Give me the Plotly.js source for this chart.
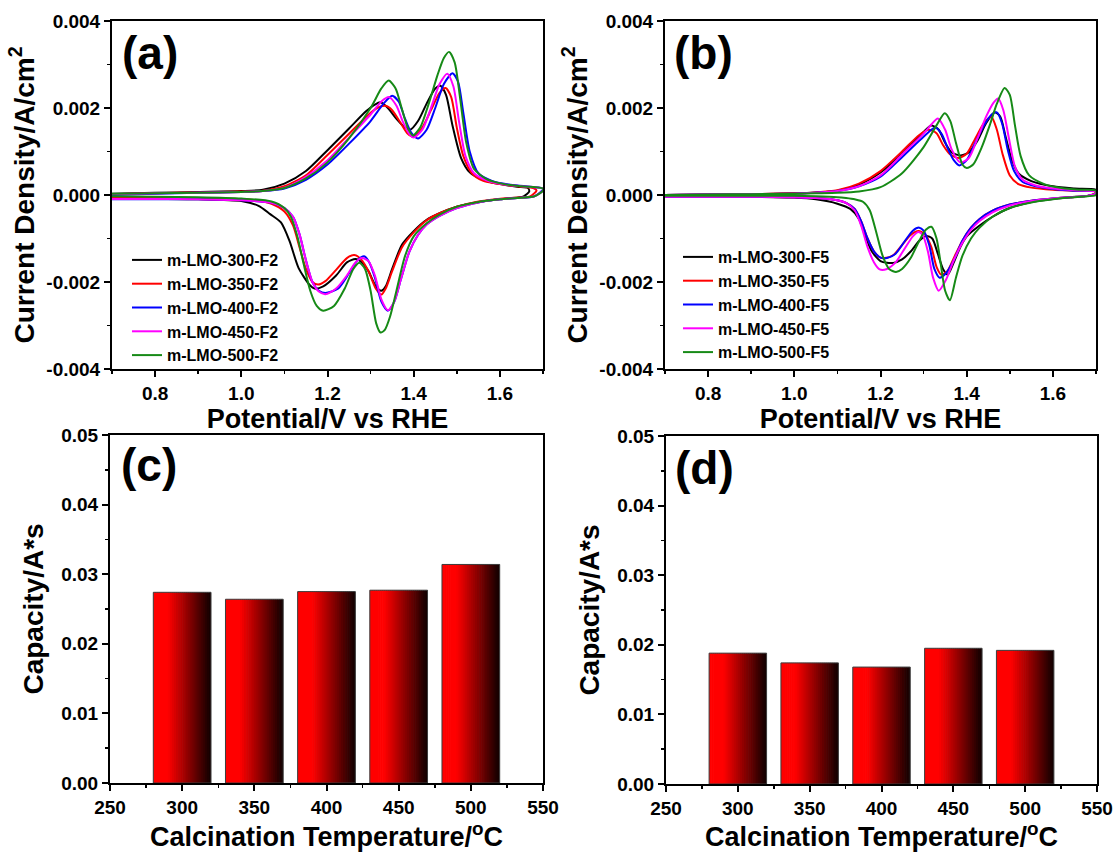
<!DOCTYPE html>
<html>
<head>
<meta charset="utf-8">
<script src="https://cdn.plot.ly/plotly-3.0.1.min.js"></script>
<style>html,body{margin:0;padding:0;background:#fff;}#chart{width:1118px;height:852px;}</style>
</head>
<body>
<div id="chart"></div>
<script>
// ---------------- DATA ----------------
const namesA = ["m-LMO-300-F2", "m-LMO-350-F2", "m-LMO-400-F2", "m-LMO-450-F2", "m-LMO-500-F2"];
const namesB = ["m-LMO-300-F5", "m-LMO-350-F5", "m-LMO-400-F5", "m-LMO-450-F5", "m-LMO-500-F5"];
const seriesColors = ["#000000", "#ff0000", "#0000ff", "#ff00ff", "#168a16"];

// a, 300-F2  (potential V vs RHE, current density A/cm^2; anodic sweep then cathodic sweep)
const vA300 = [0.70,0.80,0.90,1.00,1.05,1.10,1.15,1.20,1.25,1.29,1.31,1.323,1.34,1.36,1.38,1.392,1.41,1.43,1.45,1.462,1.475,1.49,1.51,1.53,1.56,1.60,1.64,1.665,
  1.668,1.655,1.62,1.58,1.545,1.50,1.46,1.43,1.40,1.373,1.35,1.335,1.325,1.312,1.295,1.28,1.265,1.245,1.22,1.19,1.17,1.158,1.133,1.112,1.092,1.067,1.04,1.00,0.90,0.80,0.70];
const jA300 = [3e-5,5e-5,7e-5,9e-5,1.2e-4,2.6e-4,5.5e-4,1.03e-3,1.53e-3,1.93e-3,2.08e-3,2.13e-3,2.0e-3,1.75e-3,1.55e-3,1.5e-3,1.7e-3,2.1e-3,2.45e-3,2.51e-3,2.3e-3,1.6e-3,8.5e-4,5.2e-4,3.5e-4,2.5e-4,1.9e-4,1.6e-4,
  8e-5,-3e-5,-8e-5,-1.2e-4,-1.7e-4,-2.7e-4,-4.2e-4,-5.7e-4,-8.3e-4,-1.14e-3,-1.7e-3,-2.1e-3,-2.2e-3,-2.1e-3,-1.75e-3,-1.55e-3,-1.47e-3,-1.55e-3,-1.85e-3,-2.1e-3,-2.15e-3,-2.06e-3,-1.68e-3,-1.06e-3,-6.3e-4,-4.4e-4,-2.5e-4,-1.4e-4,-1.0e-4,-9e-5,-8e-5];
// a, 350-F2
const vA350 = [0.70,0.80,0.90,1.00,1.05,1.10,1.15,1.20,1.25,1.29,1.315,1.335,1.35,1.37,1.385,1.40,1.42,1.44,1.46,1.474,1.487,1.50,1.515,1.535,1.56,1.60,1.64,1.68,
  1.685,1.67,1.62,1.58,1.545,1.50,1.46,1.43,1.40,1.373,1.35,1.335,1.325,1.312,1.295,1.278,1.262,1.245,1.22,1.195,1.178,1.165,1.15,1.135,1.12,1.10,1.07,1.04,1.00,0.90,0.80,0.70];
const jA350 = [2e-5,4e-5,6e-5,8e-5,1.0e-4,2.0e-4,4.5e-4,9.2e-4,1.41e-3,1.8e-3,2.0e-3,2.05e-3,1.95e-3,1.65e-3,1.42e-3,1.34e-3,1.55e-3,1.95e-3,2.35e-3,2.46e-3,2.25e-3,1.55e-3,9.0e-4,5.0e-4,3.3e-4,2.5e-4,2.0e-4,1.5e-4,
  1.0e-4,-3e-5,-7e-5,-1.1e-4,-1.6e-4,-2.7e-4,-4.2e-4,-5.8e-4,-8.6e-4,-1.2e-3,-1.75e-3,-2.15e-3,-2.29e-3,-2.15e-3,-1.75e-3,-1.48e-3,-1.38e-3,-1.45e-3,-1.72e-3,-1.98e-3,-2.06e-3,-2.0e-3,-1.7e-3,-1.2e-3,-7.0e-4,-3.8e-4,-2.0e-4,-1.3e-4,-9e-5,-7e-5,-6e-5,-5e-5];
// a, 400-F2
const vA400 = [0.70,0.80,0.90,1.00,1.05,1.10,1.15,1.20,1.25,1.30,1.33,1.35,1.365,1.38,1.395,1.41,1.43,1.45,1.47,1.49,1.503,1.515,1.53,1.55,1.58,1.62,1.66,1.70,
  1.70,1.68,1.64,1.60,1.55,1.50,1.46,1.43,1.41,1.39,1.37,1.355,1.34,1.325,1.31,1.297,1.285,1.27,1.25,1.225,1.195,1.18,1.165,1.15,1.135,1.12,1.10,1.07,1.00,0.90,0.80,0.70];
const jA400 = [0,3e-5,5e-5,7e-5,9e-5,1.5e-4,3.5e-4,7.0e-4,1.18e-3,1.7e-3,2.1e-3,2.28e-3,2.15e-3,1.75e-3,1.42e-3,1.3e-3,1.5e-3,2.0e-3,2.55e-3,2.8e-3,2.6e-3,1.9e-3,1.0e-3,5.0e-4,3.3e-4,2.4e-4,2.0e-4,1.5e-4,
  1.2e-4,-3e-5,-7e-5,-1.0e-4,-1.7e-4,-3.0e-4,-4.8e-4,-6.8e-4,-9.2e-4,-1.3e-3,-1.95e-3,-2.45e-3,-2.66e-3,-2.45e-3,-1.9e-3,-1.55e-3,-1.41e-3,-1.5e-3,-1.8e-3,-2.15e-3,-2.25e-3,-2.2e-3,-2.0e-3,-1.5e-3,-9.0e-4,-5.0e-4,-3.0e-4,-1.8e-4,-1.2e-4,-1.0e-4,-1.0e-4,-1.0e-4];
// a, 450-F2
const vA450 = [0.70,0.80,0.90,1.00,1.05,1.10,1.15,1.20,1.25,1.30,1.325,1.343,1.36,1.375,1.39,1.40,1.42,1.44,1.46,1.478,1.492,1.505,1.52,1.54,1.57,1.61,1.65,1.70,
  1.70,1.68,1.64,1.60,1.55,1.50,1.46,1.43,1.41,1.39,1.37,1.355,1.34,1.325,1.31,1.295,1.28,1.265,1.245,1.22,1.195,1.18,1.165,1.15,1.135,1.12,1.10,1.07,1.00,0.90,0.80,0.70];
const jA450 = [2e-5,4e-5,5e-5,7e-5,9e-5,1.7e-4,4.2e-4,8.0e-4,1.32e-3,1.85e-3,2.15e-3,2.25e-3,2.05e-3,1.68e-3,1.4e-3,1.32e-3,1.5e-3,2.0e-3,2.55e-3,2.79e-3,2.5e-3,1.7e-3,9.0e-4,5.0e-4,3.3e-4,2.4e-4,2.0e-4,1.5e-4,
  1.0e-4,-3e-5,-7e-5,-1.0e-4,-1.7e-4,-3.0e-4,-4.8e-4,-6.8e-4,-9.2e-4,-1.3e-3,-1.95e-3,-2.45e-3,-2.65e-3,-2.4e-3,-1.85e-3,-1.52e-3,-1.45e-3,-1.55e-3,-1.85e-3,-2.15e-3,-2.28e-3,-2.22e-3,-2.0e-3,-1.5e-3,-9.0e-4,-5.0e-4,-3.0e-4,-1.8e-4,-1.2e-4,-1.0e-4,-9e-5,-9e-5];
// a, 500-F2
const vA500 = [0.70,0.80,0.90,1.00,1.05,1.10,1.15,1.20,1.25,1.30,1.325,1.342,1.358,1.372,1.386,1.398,1.415,1.435,1.455,1.47,1.482,1.495,1.508,1.522,1.54,1.57,1.61,1.65,1.70,
  1.70,1.68,1.64,1.60,1.55,1.50,1.46,1.43,1.40,1.38,1.36,1.345,1.333,1.323,1.313,1.30,1.287,1.274,1.26,1.24,1.215,1.19,1.175,1.16,1.145,1.13,1.115,1.10,1.07,1.00,0.90,0.80,0.70];
const jA500 = [3e-5,4e-5,5e-5,7e-5,9e-5,1.6e-4,3.8e-4,7.5e-4,1.3e-3,2.0e-3,2.45e-3,2.63e-3,2.45e-3,2.0e-3,1.55e-3,1.37e-3,1.55e-3,2.1e-3,2.75e-3,3.15e-3,3.29e-3,3.05e-3,2.2e-3,1.2e-3,6.0e-4,3.6e-4,2.5e-4,2.0e-4,1.5e-4,
  1.0e-4,-3e-5,-7e-5,-1.0e-4,-1.6e-4,-2.7e-4,-4.5e-4,-6.5e-4,-9.5e-4,-1.4e-3,-2.2e-3,-2.8e-3,-3.1e-3,-3.16e-3,-2.95e-3,-2.2e-3,-1.7e-3,-1.56e-3,-1.7e-3,-2.15e-3,-2.55e-3,-2.66e-3,-2.55e-3,-2.2e-3,-1.6e-3,-9.5e-4,-5.0e-4,-3.0e-4,-1.5e-4,-8e-5,-5e-5,-4e-5,-3e-5];

// b, 300-F5
const vB300 = [0.70,0.80,0.90,1.00,1.05,1.10,1.15,1.20,1.25,1.30,1.318,1.335,1.35,1.365,1.385,1.405,1.425,1.445,1.465,1.478,1.49,1.505,1.52,1.55,1.60,1.65,1.70,
  1.70,1.68,1.64,1.60,1.55,1.50,1.46,1.43,1.40,1.385,1.37,1.356,1.345,1.333,1.32,1.306,1.29,1.27,1.25,1.23,1.215,1.20,1.18,1.165,1.15,1.13,1.10,1.05,1.00,0.90,0.80,0.70];
const jB300 = [0,1e-5,2e-5,4e-5,6e-5,1.0e-4,2.4e-4,5.2e-4,9.5e-4,1.45e-3,1.6e-3,1.5e-3,1.2e-3,9.8e-4,9.1e-4,9.8e-4,1.25e-3,1.65e-3,1.9e-3,1.8e-3,1.35e-3,8.0e-4,5.0e-4,3.2e-4,2.0e-4,1.5e-4,1.2e-4,
  5e-5,-2e-5,-5e-5,-9e-5,-1.6e-4,-3.0e-4,-5.0e-4,-7.0e-4,-9.5e-4,-1.2e-3,-1.55e-3,-1.83e-3,-1.7e-3,-1.35e-3,-1.0e-3,-9.4e-4,-1.05e-3,-1.3e-3,-1.48e-3,-1.56e-3,-1.56e-3,-1.52e-3,-1.3e-3,-9.5e-4,-5.5e-4,-3.2e-4,-2.0e-4,-1.0e-4,-6e-5,-4e-5,-3e-5,-3e-5];
// b, 350-F5
const vB350 = [0.70,0.80,0.90,1.00,1.05,1.10,1.15,1.20,1.25,1.29,1.312,1.33,1.345,1.36,1.38,1.40,1.42,1.44,1.457,1.47,1.483,1.50,1.52,1.55,1.60,1.65,1.70,
  1.70,1.68,1.64,1.60,1.55,1.50,1.46,1.43,1.41,1.39,1.37,1.355,1.341,1.33,1.318,1.303,1.288,1.27,1.25,1.23,1.21,1.20,1.185,1.17,1.155,1.14,1.12,1.10,1.05,1.00,0.90,0.80,0.70];
const jB350 = [0,1e-5,2e-5,4e-5,6e-5,1.1e-4,2.6e-4,5.5e-4,1.0e-3,1.38e-3,1.5e-3,1.42e-3,1.15e-3,9.5e-4,8.5e-4,9.5e-4,1.3e-3,1.65e-3,1.8e-3,1.5e-3,9.5e-4,4.5e-4,2.5e-4,1.7e-4,1.2e-4,1.0e-4,8e-5,
  5e-5,-2e-5,-5e-5,-8e-5,-1.3e-4,-2.2e-4,-3.6e-4,-5.5e-4,-7.5e-4,-1.05e-3,-1.45e-3,-1.75e-3,-1.83e-3,-1.65e-3,-1.2e-3,-9.0e-4,-8.3e-4,-9.2e-4,-1.15e-3,-1.38e-3,-1.45e-3,-1.44e-3,-1.3e-3,-1.0e-3,-6.0e-4,-3.2e-4,-1.8e-4,-1.2e-4,-7e-5,-5e-5,-4e-5,-4e-5,-4e-5];
// b, 400-F5
const vB400 = [0.70,0.80,0.90,1.00,1.05,1.10,1.15,1.20,1.25,1.30,1.327,1.342,1.357,1.37,1.383,1.40,1.42,1.44,1.458,1.47,1.482,1.495,1.51,1.53,1.56,1.60,1.65,1.70,
  1.70,1.68,1.64,1.60,1.55,1.50,1.46,1.43,1.41,1.39,1.37,1.352,1.337,1.325,1.313,1.30,1.29,1.275,1.255,1.235,1.215,1.20,1.185,1.17,1.155,1.14,1.12,1.10,1.05,1.00,0.90,0.80,0.70];
const jB400 = [0,1e-5,2e-5,3e-5,5e-5,9e-5,2.0e-4,4.2e-4,8.7e-4,1.34e-3,1.55e-3,1.4e-3,1.05e-3,8.0e-4,6.8e-4,8.0e-4,1.2e-3,1.6e-3,1.85e-3,1.9e-3,1.65e-3,1.05e-3,5.5e-4,3.0e-4,2.0e-4,1.4e-4,1.0e-4,8e-5,
  4e-5,-2e-5,-5e-5,-8e-5,-1.3e-4,-2.2e-4,-3.6e-4,-5.5e-4,-7.5e-4,-1.05e-3,-1.5e-3,-1.8e-3,-1.9e-3,-1.7e-3,-1.15e-3,-8.2e-4,-7.5e-4,-8.2e-4,-1.08e-3,-1.35e-3,-1.45e-3,-1.44e-3,-1.3e-3,-1.0e-3,-6.0e-4,-3.2e-4,-1.8e-4,-1.2e-4,-7e-5,-5e-5,-4e-5,-4e-5,-4e-5];
// b, 450-F5
const vB450 = [0.70,0.80,0.90,1.00,1.05,1.10,1.15,1.20,1.25,1.30,1.318,1.333,1.35,1.365,1.385,1.405,1.425,1.445,1.462,1.473,1.485,1.498,1.512,1.53,1.56,1.60,1.65,1.70,
  1.70,1.68,1.64,1.60,1.55,1.50,1.46,1.43,1.41,1.39,1.37,1.352,1.335,1.322,1.31,1.298,1.288,1.275,1.255,1.235,1.215,1.198,1.185,1.17,1.155,1.14,1.12,1.10,1.05,1.00,0.90,0.80,0.70];
const jB450 = [0,1e-5,2e-5,3e-5,5e-5,9e-5,2.0e-4,4.5e-4,9.3e-4,1.41e-3,1.62e-3,1.76e-3,1.5e-3,1.05e-3,7.5e-4,8.5e-4,1.3e-3,1.8e-3,2.12e-3,2.22e-3,1.95e-3,1.3e-3,6.5e-4,3.5e-4,2.2e-4,1.5e-4,1.1e-4,8e-5,
  4e-5,-2e-5,-5e-5,-8e-5,-1.4e-4,-2.4e-4,-4.0e-4,-6.0e-4,-8.0e-4,-1.1e-3,-1.5e-3,-1.95e-3,-2.2e-3,-1.9e-3,-1.3e-3,-9.2e-4,-8.5e-4,-9.5e-4,-1.25e-3,-1.55e-3,-1.7e-3,-1.71e-3,-1.55e-3,-1.2e-3,-7.0e-4,-3.5e-4,-1.8e-4,-1.2e-4,-7e-5,-5e-5,-4e-5,-4e-5,-4e-5];
// b, 500-F5
const vB500 = [0.70,0.80,0.90,1.00,1.05,1.10,1.15,1.20,1.25,1.30,1.33,1.349,1.362,1.375,1.39,1.40,1.415,1.435,1.455,1.47,1.488,1.50,1.512,1.525,1.545,1.58,1.62,1.66,1.70,
  1.70,1.68,1.64,1.60,1.55,1.50,1.46,1.43,1.41,1.39,1.375,1.361,1.35,1.34,1.33,1.318,1.305,1.29,1.27,1.25,1.236,1.22,1.205,1.19,1.175,1.16,1.14,1.12,1.10,1.05,1.00,0.90,0.80,0.70];
const jB500 = [0,1e-5,2e-5,3e-5,4e-5,5e-5,8e-5,1.8e-4,5.0e-4,1.1e-3,1.6e-3,1.88e-3,1.7e-3,1.2e-3,7.0e-4,6.2e-4,7.0e-4,1.1e-3,1.65e-3,2.1e-3,2.46e-3,2.3e-3,1.6e-3,9.0e-4,4.5e-4,2.5e-4,1.6e-4,1.2e-4,1.0e-4,
  0,-3e-5,-6e-5,-1.0e-4,-1.7e-4,-3.0e-4,-5.0e-4,-7.5e-4,-1.0e-3,-1.4e-3,-1.9e-3,-2.42e-3,-2.2e-3,-1.6e-3,-1.0e-3,-7.3e-4,-8.0e-4,-1.05e-3,-1.45e-3,-1.7e-3,-1.77e-3,-1.7e-3,-1.4e-3,-8.5e-4,-3.5e-4,-1.6e-4,-1.0e-4,-7e-5,-5e-5,-3e-5,-2e-5,-2e-5,-2e-5,-2e-5];

// Panels (c), (d): capacity bars
const temps = [300, 350, 400, 450, 500];
const capC = [0.0274, 0.0264, 0.0275, 0.0277, 0.0314];
const capD = [0.0188, 0.0174, 0.0168, 0.0195, 0.0192];

// Tick labels
const cvTickVals = [-0.004, -0.002, 0, 0.002, 0.004];
const cvTickText = ["-0.004", "-0.002", "0.000", "0.002", "0.004"];

// ---------------- BUILD ----------------
const W = 1118, H = 852;
const cvA = [[vA300, jA300], [vA350, jA350], [vA400, jA400], [vA450, jA450], [vA500, jA500]];
const cvB = [[vB300, jB300], [vB350, jB350], [vB400, jB400], [vB450, jB450], [vB500, jB500]];

const traces = [];
cvA.forEach((s, i) => traces.push({
  type: 'scatter', mode: 'lines', x: s[0], y: s[1], name: namesA[i],
  line: {color: seriesColors[i], width: 2, shape: 'spline', smoothing: 0.7},
  xaxis: 'x', yaxis: 'y', legend: 'legend', hoverinfo: 'skip'
}));
cvB.forEach((s, i) => traces.push({
  type: 'scatter', mode: 'lines', x: s[0], y: s[1], name: namesB[i],
  line: {color: seriesColors[i], width: 2, shape: 'spline', smoothing: 0.7},
  xaxis: 'x2', yaxis: 'y2', legend: 'legend2', hoverinfo: 'skip'
}));

// gradient bars built as thin vertical slices
const BAR_W = 40, NSL = 28;
function sliceColor(t) {
  const f = Math.min(1, Math.max(0, (t - 0.25) / 0.72));
  const r = Math.round(255 * (1 - f) + 22 * f);
  return 'rgb(' + r + ',0,0)';
}
function addBars(vals, xa, ya) {
  const sw = BAR_W / NSL;
  for (let i = 0; i < NSL; i++) {
    traces.push({
      type: 'bar', x: temps, y: vals, xaxis: xa, yaxis: ya,
      width: (i < NSL - 1 ? sw * 1.35 : sw), offset: -BAR_W / 2 + i * sw,
      marker: {color: sliceColor((i + 0.5) / NSL), line: {width: 0}},
      showlegend: false, hoverinfo: 'skip'
    });
  }
  traces.push({
    type: 'bar', x: temps, y: vals, xaxis: xa, yaxis: ya,
    width: BAR_W, offset: -BAR_W / 2,
    marker: {color: 'rgba(0,0,0,0)', line: {width: 1, color: '#3c3c3c'}},
    showlegend: false, hoverinfo: 'skip'
  });
}
addBars(capC, 'x3', 'y3');
addBars(capD, 'x4', 'y4');

const FONT = 'Arial, "Liberation Sans", sans-serif';
const minorTick = (d) => ({ticks: 'outside', ticklen: 3, tickwidth: 1.5, tickcolor: '#000', dtick: d, showgrid: false});
function baseAxis(extra) {
  return Object.assign({
    showline: true, linecolor: '#000', linewidth: 2, mirror: true,
    ticks: 'outside', ticklen: 6, tickwidth: 2, tickcolor: '#000',
    showgrid: false, zeroline: false, fixedrange: true,
    tickfont: {family: FONT, size: 19, weight: 'bold', color: '#000'}
  }, extra);
}
const xTitleFont = {family: FONT, size: 27, weight: 'bold', color: '#000'};
const yTitleFont = {family: FONT, size: 28, weight: 'bold', color: '#000'};
const px = (a, b) => [a / W, b / W];
const py = (top, bot) => [1 - bot / H, 1 - top / H];

const layout = {
  width: W, height: H, margin: {l: 0, r: 0, t: 0, b: 0},
  paper_bgcolor: '#fff', plot_bgcolor: '#fff', barmode: 'overlay',
  font: {family: FONT, color: '#000'},
  xaxis: baseAxis({domain: px(112, 543), range: [0.7, 1.7], dtick: 0.2, tick0: 0.8, tickformat: '.1f', minor: minorTick(0.1), anchor: 'y',
    title: {text: 'Potential/V vs RHE', font: xTitleFont, standoff: 0}}),
  yaxis: baseAxis({domain: py(21, 369), range: [-0.004, 0.004], tickvals: cvTickVals, ticktext: cvTickText, minor: minorTick(0.001), anchor: 'x',
    title: {text: 'Current Density/A/cm<sup>2</sup>', font: yTitleFont, standoff: 4}}),
  xaxis2: baseAxis({domain: px(665, 1096), range: [0.7, 1.7], dtick: 0.2, tick0: 0.8, tickformat: '.1f', minor: minorTick(0.1), anchor: 'y2',
    title: {text: 'Potential/V vs RHE', font: xTitleFont, standoff: 0}}),
  yaxis2: baseAxis({domain: py(21, 369), range: [-0.004, 0.004], tickvals: cvTickVals, ticktext: cvTickText, minor: minorTick(0.001), anchor: 'x2',
    title: {text: 'Current Density/A/cm<sup>2</sup>', font: yTitleFont, standoff: 4}}),
  xaxis3: baseAxis({domain: px(110, 543), range: [250, 550], dtick: 50, tick0: 250, minor: minorTick(25), anchor: 'y3',
    title: {text: 'Calcination Temperature/<sup>o</sup>C', font: xTitleFont, standoff: 13}}),
  yaxis3: baseAxis({domain: py(435, 783), range: [0, 0.05], dtick: 0.01, tickformat: '.2f', minor: minorTick(0.005), anchor: 'x3',
    title: {text: 'Capacity/A*s', font: yTitleFont, standoff: 9}}),
  xaxis4: baseAxis({domain: px(666, 1097), range: [250, 550], dtick: 50, tick0: 250, minor: minorTick(25), anchor: 'y4',
    title: {text: 'Calcination Temperature/<sup>o</sup>C', font: xTitleFont, standoff: 13}}),
  yaxis4: baseAxis({domain: py(436, 784), range: [0, 0.05], dtick: 0.01, tickformat: '.2f', minor: minorTick(0.005), anchor: 'x4',
    title: {text: 'Capacity/A*s', font: yTitleFont, standoff: 9}}),
  legend: {x: 127 / W, y: 1 - 243 / H, xanchor: 'left', yanchor: 'top', bgcolor: 'rgba(0,0,0,0)',
    font: {family: FONT, size: 16, weight: 'bold', color: '#000'}, tracegroupgap: 0},
  legend2: {x: 678 / W, y: 1 - 240 / H, xanchor: 'left', yanchor: 'top', bgcolor: 'rgba(0,0,0,0)',
    font: {family: FONT, size: 16, weight: 'bold', color: '#000'}, tracegroupgap: 0},
  annotations: [
    {text: '(a)', x: 150 / W, y: 1 - 53 / H},
    {text: '(b)', x: 703 / W, y: 1 - 53 / H},
    {text: '(c)', x: 149 / W, y: 1 - 465 / H},
    {text: '(d)', x: 704 / W, y: 1 - 468 / H}
  ].map(a => Object.assign(a, {xref: 'paper', yref: 'paper', xanchor: 'center', yanchor: 'middle', showarrow: false,
    font: {family: FONT, size: 46, weight: 'bold', color: '#000'}}))
};

Plotly.newPlot('chart', traces, layout, {displayModeBar: false, staticPlot: true});
</script>
</body>
</html>
